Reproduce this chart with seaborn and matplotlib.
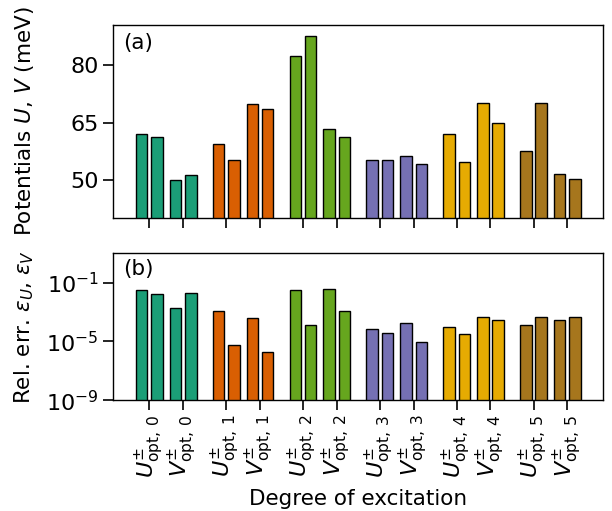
import numpy as np
import pandas as pd
import matplotlib
matplotlib.use("Agg")
import matplotlib.pyplot as plt
import seaborn as sns

# ---- data ----
groups = [0, 1, 2, 3, 4, 5]
bar_names = ["U+", "U-", "V+", "V-"]
potentials = {
    0: [62.0, 61.3, 50.0, 51.2],
    1: [59.3, 55.2, 69.8, 68.5],
    2: [82.5, 87.7, 63.2, 61.2],
    3: [55.3, 55.2, 56.3, 54.1],
    4: [62.0, 54.7, 70.0, 64.9],
    5: [57.6, 70.2, 51.5, 50.2],
}
log_rel_err = {
    0: [-1.48, -1.78, -2.69, -1.73],
    1: [-2.94, -5.23, -3.42, -5.73],
    2: [-1.48, -3.88, -1.41, -2.92],
    3: [-4.13, -4.43, -3.72, -5.07],
    4: [-3.99, -4.50, -3.31, -3.54],
    5: [-3.86, -3.33, -3.54, -3.33],
}
tick_labels = []
for g in groups:
    tick_labels.append(r"$U^{\pm}_{\rm opt,\,%d}$" % g)
    tick_labels.append(r"$V^{\pm}_{\rm opt,\,%d}$" % g)

# ---- layout (positions) ----
G, P, D = 5.0, 2.2, 0.5
rows = []
tick_pos = []
for g in groups:
    for p in range(2):
        c = g * G + p * P
        tick_pos.append(c)
        for b in range(2):
            i = 2 * p + b
            rows.append(dict(x=c + (2 * b - 1) * D, group=str(g),
                             pot=potentials[g][i],
                             err=10.0 ** log_rel_err[g][i]))
df = pd.DataFrame(rows)

sns.set_theme(style="ticks")
plt.rcParams["font.family"] = ["DejaVu Sans"]
plt.rcParams["mathtext.fontset"] = "dejavusans"
plt.rcParams["axes.linewidth"] = 1.0
for k in ["text.color", "axes.labelcolor", "xtick.color", "ytick.color",
          "axes.edgecolor"]:
    plt.rcParams[k] = "black"

fig = plt.figure(figsize=(6.12, 5.11), dpi=100)
ax1 = fig.add_axes([0.185, 0.573, 0.801, 0.378])
ax2 = fig.add_axes([0.185, 0.217, 0.801, 0.288])

d2 = sns.color_palette("Dark2", 8)
pal = [d2[0], d2[1], d2[4], d2[2], d2[5], d2[6]]
common = dict(x="x", hue="group", palette=pal, native_scale=True, width=0.75,
              dodge=False, edgecolor="black", linewidth=1.0, legend=False,
              errorbar=None, saturation=1)
sns.barplot(data=df, y="pot", ax=ax1, **common)
sns.barplot(data=df, y="err", ax=ax2, **common)
ax2.set_yscale("log")

xlim = (tick_pos[0] - 2.35, tick_pos[-1] + 2.35)
fs = 15.5
for ax in (ax1, ax2):
    ax.set_xlim(*xlim)
    ax.set_xticks(tick_pos)
    for s in ax.spines.values():
        s.set_visible(True)
        s.set_color("black")
        s.set_linewidth(1.0)
    ax.tick_params(axis="both", which="major", length=7, width=1.2,
                   labelsize=16, color="black", labelcolor="black",
                   direction="out")
    ax.tick_params(axis="y", which="minor", length=0)

ax1.set_ylim(40, 90.5)
ax1.set_yticks([50, 65, 80])
ax1.set_xticklabels([])
ax1.set_xlabel("")
ax1.set_ylabel(r"Potentials $U$, $V$ (meV)", fontsize=fs)

ax2.set_ylim(1e-9, 10.7)
ax2.set_yticks([1e-9, 1e-5, 1e-1])
ax2.set_yticklabels([r"$10^{-9}$", r"$10^{-5}$", r"$10^{-1}$"])
ax2.yaxis.set_minor_locator(matplotlib.ticker.NullLocator())
ax2.set_xticklabels(tick_labels, rotation=90, fontsize=16)
ax2.set_xlabel("Degree of excitation", fontsize=fs, labelpad=8)
ax2.set_ylabel(r"Rel. err. $\varepsilon_U$, $\varepsilon_V$", fontsize=fs)

ax1.yaxis.set_label_coords(-0.158, 0.5)
ax2.yaxis.set_label_coords(-0.158, 0.5)

ax1.text(0.02, 0.96, "(a)", transform=ax1.transAxes, ha="left", va="top", fontsize=fs)
ax2.text(0.02, 0.96, "(b)", transform=ax2.transAxes, ha="left", va="top", fontsize=fs)

fig.savefig("out.png", dpi=100)
